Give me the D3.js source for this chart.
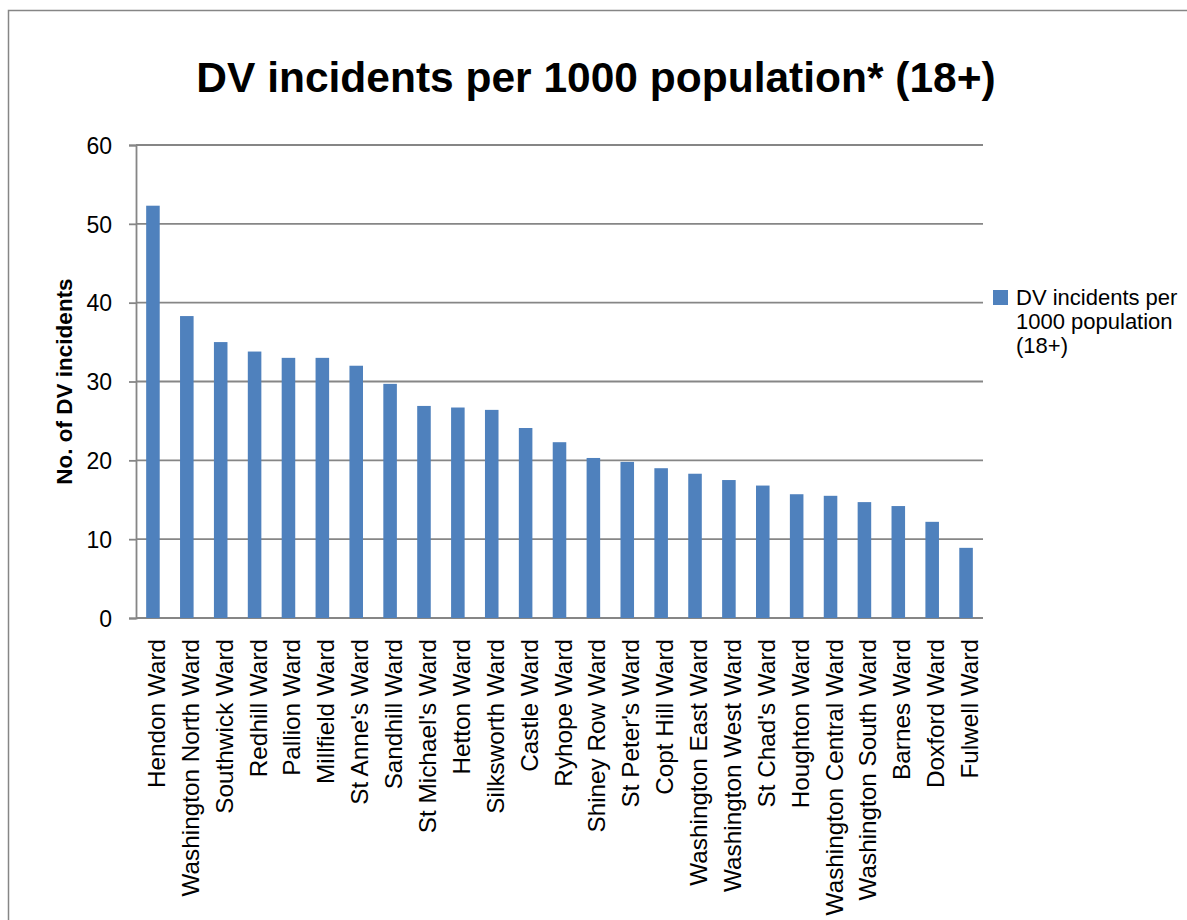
<!DOCTYPE html>
<html>
<head>
<meta charset="utf-8">
<script src="https://d3js.org/d3.v7.min.js"></script>
<style>
  html, body { margin: 0; padding: 0; background: #ffffff; }
  svg { display: block; }
  text { font-family: "Liberation Sans", Arial, sans-serif; fill: #000; }
</style>
</head>
<body>
<script>
// Ward names, in descending order of rate
const wards = [
  "Hendon Ward", "Washington North Ward", "Southwick Ward", "Redhill Ward",
  "Pallion Ward", "Millfield Ward", "St Anne's Ward", "Sandhill Ward",
  "St Michael's Ward", "Hetton Ward", "Silksworth Ward", "Castle Ward",
  "Ryhope Ward", "Shiney Row Ward", "St Peter's Ward", "Copt Hill Ward",
  "Washington East Ward", "Washington West Ward", "St Chad's Ward",
  "Houghton Ward", "Washington Central Ward", "Washington South Ward",
  "Barnes Ward", "Doxford Ward", "Fulwell Ward"
];

// DV incidents per 1000 population (18+)
const rates = [
  52.3, 38.3, 35.0, 33.8, 33.0, 33.0, 32.0, 29.7, 26.9, 26.7, 26.4, 24.1,
  22.3, 20.3, 19.8, 19.0, 18.3, 17.5, 16.8, 15.7, 15.5, 14.7, 14.2, 12.2, 8.9
];

const yTicks = [0, 10, 20, 30, 40, 50, 60];

const chartTitle = "DV incidents per 1000 population* (18+)";
const yAxisTitle = "No. of DV incidents";
const legendLines = ["DV incidents per", "1000 population", "(18+)"];

const W = 1187, H = 920;
const plot = { left: 136, right: 983, top: 145, bottom: 618 };
const barColor = "#4F81BD";
const gridColor = "#868686";

const svg = d3.select("body").append("svg")
  .attr("width", W).attr("height", H);

// chart frame
svg.append("rect")
  .attr("x", 8.5).attr("y", 10.5)
  .attr("width", W + 20).attr("height", H + 20)
  .attr("fill", "#fff").attr("stroke", gridColor).attr("stroke-width", 1.5);

const data = wards.map((w, i) => ({ ward: w, value: rates[i] }));

const x = d3.scaleBand()
  .domain(wards)
  .range([plot.left, plot.right])
  .paddingInner(0.6)
  .paddingOuter(0.3);

const y = d3.scaleLinear()
  .domain([0, 60])
  .range([plot.bottom, plot.top]);

// y axis with tick labels
const yAxis = d3.axisLeft(y)
  .tickValues(yTicks)
  .tickSize(7)
  .tickPadding(17)
  .tickFormat(d3.format("d"));

const yG = svg.append("g")
  .attr("transform", `translate(${plot.left},0)`)
  .call(yAxis);
yG.select(".domain").attr("stroke", gridColor).attr("stroke-width", 1.8);
yG.selectAll(".tick line").attr("stroke", gridColor).attr("stroke-width", 1.8);
yG.selectAll(".tick text")
  .style("font-size", "23px")
  .attr("dy", "0.36em");

// horizontal gridlines
svg.append("g").selectAll("line")
  .data(yTicks)
  .join("line")
  .attr("x1", plot.left).attr("x2", plot.right)
  .attr("y1", d => y(d)).attr("y2", d => y(d))
  .attr("stroke", gridColor).attr("stroke-width", 1.8);

// bars
svg.append("g").selectAll("rect")
  .data(data)
  .join("rect")
  .attr("x", d => x(d.ward))
  .attr("width", x.bandwidth())
  .attr("y", d => y(d.value))
  .attr("height", d => y(0) - y(d.value))
  .attr("fill", barColor);

// category axis labels, rotated
svg.append("g").selectAll("text")
  .data(wards)
  .join("text")
  .attr("transform", d => `translate(${x(d) + x.bandwidth() / 2 + 12},${plot.bottom + 21}) rotate(-90)`)
  .attr("text-anchor", "end")
  .style("font-size", "24.3px")
  .text(d => d);

// chart title
svg.append("text")
  .attr("x", 596).attr("y", 92)
  .attr("text-anchor", "middle")
  .style("font-size", "42.5px")
  .style("font-weight", "bold")
  .text(chartTitle);

// y axis title
svg.append("text")
  .attr("transform", `translate(72,${(plot.top + plot.bottom) / 2}) rotate(-90)`)
  .attr("text-anchor", "middle")
  .style("font-size", "22.5px")
  .style("font-weight", "bold")
  .text(yAxisTitle);

// legend
const legend = svg.append("g");
legend.append("rect")
  .attr("x", 993).attr("y", 290)
  .attr("width", 15).attr("height", 15)
  .attr("fill", barColor);
legend.append("text")
  .attr("x", 1016).attr("y", 305)
  .style("font-size", "22px")
  .selectAll("tspan")
  .data(legendLines)
  .join("tspan")
  .attr("x", 1016)
  .attr("dy", (d, i) => i === 0 ? 0 : 24)
  .text(d => d);
</script>
</body>
</html>
